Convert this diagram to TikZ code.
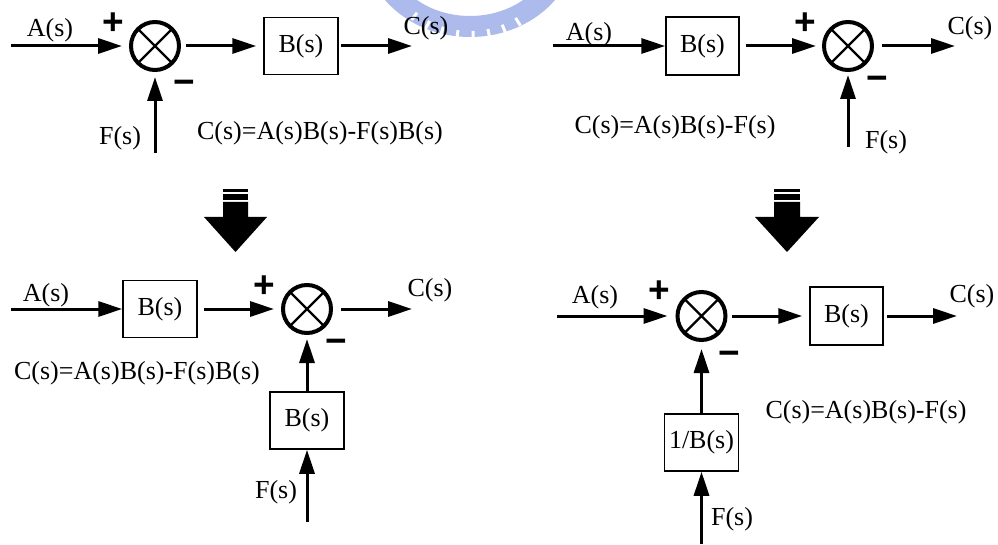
\documentclass[tikz,border=0pt]{standalone}
\usepackage{fontspec}
\setmainfont{Liberation Serif}
\newfontfamily\signfont{Liberation Sans}
\usetikzlibrary{arrows.meta}
\definecolor{wm}{RGB}{172,186,236}
\begin{document}
\begin{tikzpicture}[x=1pt,y=-1pt,
  sig/.style={line width=3pt,-{Triangle[length=24pt 0 0,width=15pt 0 0]}},
  sumj/.style={circle,draw,line width=4pt,inner sep=0pt,minimum size=48pt,
    path picture={\draw[line width=2.4pt]
      (path picture bounding box.north west)--(path picture bounding box.south east)
      (path picture bounding box.north east)--(path picture bounding box.south west);}},
  blk/.style={draw,line width=1.5pt,inner sep=0pt,minimum width=74pt,minimum height=57pt,
    font=\fontsize{26}{30}\selectfont},
  lbl/.style={inner sep=0pt,font=\fontsize{26}{30}\selectfont},
  sgn/.style={inner sep=0pt,anchor=base,font=\signfont\bfseries\fontsize{37}{40}\selectfont}]
\useasboundingbox (0,0) rectangle (998,545);

% faint watermark
\begin{scope}
  \clip (385,0) rectangle (560,45);
  \fill[wm,even odd rule] (470,-55) ellipse [x radius=106, y radius=92]
                          (470,-55) ellipse [x radius=84, y radius=71];
  \foreach \a in {58,68,...,128} \draw[white,line width=3pt] (470,-55) ++(\a:95) -- ++(\a:-9);
\end{scope}

% ---------- top left ----------
\coordinate (A1) at (11,46);
\node[sumj] (S1) at (155,46) {};
\node[blk] (B1) at (301,46) {B(s)};
\coordinate (C1) at (412,46);
\coordinate (F1) at (155,153);
\draw[sig,shorten >=7pt] (A1) -- (S1);
\draw[sig,shorten <=5pt,shorten >=7pt] (S1) -- (B1);
\draw[sig,shorten <=2pt] (B1) -- (C1);
\draw[sig,shorten >=5pt] (F1) -- (S1);
\node[lbl] (la1) at (50,30) {A(s)};
\node[sgn] (p1) at (113,35) {+};
\node[sgn] (m1) at (184,95) {−};
\node[lbl] (lc1) at (426,28) {C(s)};
\node[lbl] (lf1) at (120,138) {F(s)};
\node[lbl] (eq1) at (320,133) {C(s)=A(s)B(s)-F(s)B(s)};

% ---------- top right ----------
\coordinate (A2) at (553,46);
\node[blk,minimum width=73pt,minimum height=58pt] (B2) at (702.5,46) {B(s)};
\node[sumj] (S2) at (848,46) {};
\coordinate (C2) at (955,46);
\coordinate (F2) at (848,147);
\draw[sig] (A2) -- (B2);
\draw[sig,shorten <=6pt,shorten >=6pt] (B2) -- (S2);
\draw[sig,shorten <=8pt] (S2) -- (C2);
\draw[sig,shorten >=3pt] (F2) -- (S2);
\node[lbl] (la2) at (589,34) {A(s)};
\node[sgn] (p2) at (805,35) {+};
\node[sgn] (m2) at (877,91) {−};
\node[lbl] (lc2) at (970,28) {C(s)};
\node[lbl] (lf2) at (886,142) {F(s)};
\node[lbl] (eq2) at (675,127) {C(s)=A(s)B(s)-F(s)};

% ---------- big arrows ----------
\fill (223,189) rectangle (248,192);
\fill (223,194) rectangle (248,200);
\fill (223,202) -- (248,202) -- (248,217) -- (267,217) -- (235.5,252) -- (204,217) -- (223,217) -- cycle;
\fill (774,189) rectangle (800,192);
\fill (774,194) rectangle (800,200);
\fill (774,202) -- (800,202) -- (800,217) -- (819,217) -- (787,252) -- (755,217) -- (774,217) -- cycle;

% ---------- bottom left ----------
\coordinate (A3) at (11,309);
\node[blk] (B3) at (160,309) {B(s)};
\node[sumj] (S3) at (307,309) {};
\coordinate (C3) at (412,309);
\node[blk] (B4) at (307,420.5) {B(s)};
\coordinate (F3) at (307,522);
\draw[sig] (A3) -- (B3);
\draw[sig,shorten <=6pt,shorten >=7pt] (B3) -- (S3);
\draw[sig,shorten <=8pt] (S3) -- (C3);
\draw[sig,shorten >=4pt] (B4) -- (S3);
\draw[sig] (F3) -- (B4);
\node[lbl] (la3) at (46,295) {A(s)};
\node[sgn] (p3) at (264,297) {+};
\node[sgn] (m3) at (336,353) {−};
\node[lbl] (lc3) at (430,290) {C(s)};
\node[lbl] (lf3) at (276,492) {F(s)};
\node[lbl] (eq3) at (137,373) {C(s)=A(s)B(s)-F(s)B(s)};

% ---------- bottom right ----------
\coordinate (A4) at (557,316);
\node[sumj] (S4) at (701.5,316) {};
\node[blk,minimum width=73pt,minimum height=58pt] (B5) at (846.5,316) {B(s)};
\coordinate (C4) at (957,316);
\node[blk] (B6) at (701.5,442.5) {1/B(s)};
\coordinate (F4) at (701.5,544);
\draw[sig,shorten >=8pt] (A4) -- (S4);
\draw[sig,shorten <=4pt,shorten >=7pt] (S4) -- (B5);
\draw[sig,shorten <=3pt] (B5) -- (C4);
\draw[sig,shorten >=7pt] (B6) -- (S4);
\draw[sig] (F4) -- (B6);
\node[lbl] (la4) at (595,297) {A(s)};
\node[sgn] (p4) at (659,302) {+};
\node[sgn] (m4) at (729,365) {−};
\node[lbl] (lc4) at (972,296) {C(s)};
\node[lbl] (lf4) at (732,519) {F(s)};
\node[lbl] (eq4) at (866,412) {C(s)=A(s)B(s)-F(s)};
\end{tikzpicture}
\end{document}
